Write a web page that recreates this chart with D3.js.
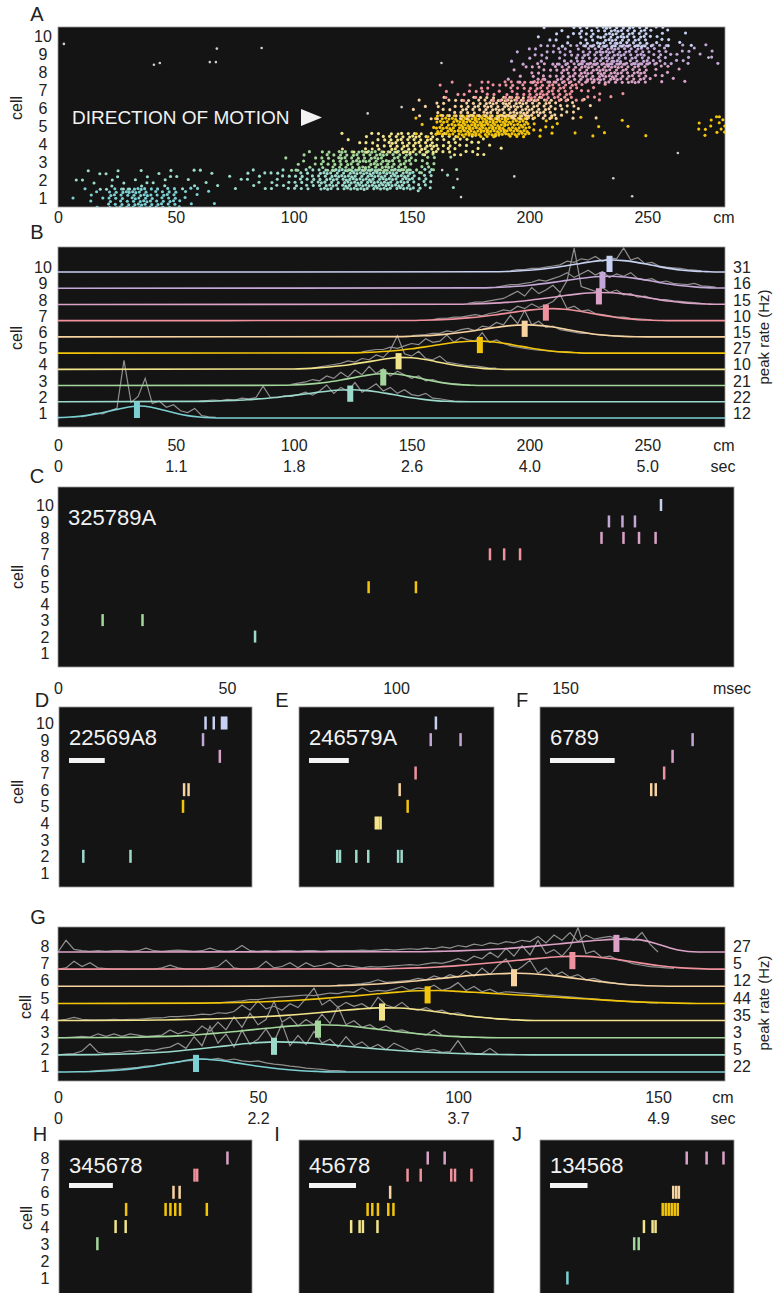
<!DOCTYPE html>
<html>
<head>
<meta charset="utf-8">
<script src="https://cdn.jsdelivr.net/npm/d3@7"></script>
<style>
  body { margin: 0; background: #fff; }
  svg text { font-family: "Liberation Sans", Arial, Helvetica, sans-serif; fill: #222; }
</style>
</head>
<body>
<svg id="fig" width="774" height="1293"></svg>
<script>
// ---------- data ----------
const cells10 = [1, 2, 3, 4, 5, 6, 7, 8, 9, 10];
const cells8 = [1, 2, 3, 4, 5, 6, 7, 8];
const cellColors = ["#7ccfd3", "#9cdacb", "#a3d69b", "#f2e48a", "#f2c40a",
                    "#f6d3a0", "#ef929e", "#dba2c8", "#c3a7d6", "#c7d1f1"];

const cmTicks = [0, 50, 100, 150, 200, 250];
const secLabelsB = ["0", "1.1", "1.8", "2.6", "4.0", "5.0"];
const msecTicks = [0, 50, 100, 150];
const cmTicksG = [0, 50, 100, 150];
const secLabelsG = ["0", "2.2", "3.7", "4.9"];

// A: spike counts per 10 cm bin, per cell (first bin index in countsStartA)
const binA = 10;
const countsStartA = [0, 0, 9, 12, 15, 15, 16, 19, 19, 20];
const countsA = [
  [1, 6, 25, 35, 25, 8, 2],
  [1, 5, 8, 6, 6, 5, 4, 3, 8, 12, 20, 35, 45, 45, 40, 20, 2],
  [2, 8, 20, 30, 35, 30, 15, 2],
  [5, 15, 30, 30, 20, 12, 5],
  [5, 40, 60, 60, 50, 10, 2, 3, 2, 2, 0, 0, 8, 6],
  [5, 15, 25, 35, 40, 30, 15, 4],
  [5, 8, 12, 20, 30, 25, 12, 3],
  [5, 15, 25, 35, 40, 30, 10, 3],
  [4, 10, 15, 25, 35, 30, 20, 10, 5],
  [3, 8, 20, 35, 30, 12, 3]
];
// stray spikes (cm, cell position)
const strayCmA = [2.5, 40.7, 43.2, 67.4, 64.4, 67, 86.4, 162.7, 131.4, 145.8, 169.5, 171, 163, 193.6, 235.6, 243.6, 263, 276];
const strayCellA = [9.56, 8.4, 8.5, 9.3, 8.55, 8.55, 9.33, 8.5, 5.7, 6.05, 2.05, 1.05, 2.55, 2.2, 2.1, 1.1, 3.5, 8.8];

// B: peak rates (Hz), peak positions (cm), smoothed (5 cm grid) and raw (3 cm) rate, normalised to peak
const peakRateB = [12, 22, 21, 10, 27, 15, 10, 15, 16, 31];
const peakPosB = [33.5, 124, 138, 144.5, 179, 198, 207, 229.5, 231, 234];
const smoothStepB = 5;
const smoothStartB = [0, 60, 95, 100, 125, 145, 150, 170, 180, 185];
const smoothB = [
  [0.03, 0.08, 0.16, 0.3, 0.5, 0.72, 0.92, 1.0, 0.88, 0.65, 0.4, 0.2, 0.08, 0.02, 0],
  [0.03, 0.05, 0.08, 0.12, 0.17, 0.24, 0.32, 0.42, 0.53, 0.65, 0.78, 0.9, 0.98, 1.0, 0.95, 0.84, 0.68, 0.5, 0.33, 0.2, 0.1, 0.04, 0.01, 0],
  [0.02, 0.05, 0.1, 0.18, 0.3, 0.46, 0.64, 0.82, 0.96, 1.0, 0.92, 0.75, 0.54, 0.34, 0.18, 0.08, 0.03, 0],
  [0.03, 0.06, 0.12, 0.2, 0.3, 0.43, 0.58, 0.74, 0.9, 1.0, 0.96, 0.84, 0.66, 0.47, 0.3, 0.17, 0.08, 0.03, 0],
  [0.02, 0.05, 0.09, 0.15, 0.24, 0.36, 0.5, 0.65, 0.8, 0.92, 0.99, 1.0, 0.93, 0.8, 0.62, 0.44, 0.28, 0.16, 0.08, 0.03, 0],
  [0.02, 0.05, 0.09, 0.15, 0.23, 0.34, 0.47, 0.62, 0.77, 0.9, 0.98, 1.0, 0.94, 0.82, 0.65, 0.47, 0.31, 0.18, 0.09, 0.04, 0.01, 0],
  [0.02, 0.04, 0.07, 0.11, 0.17, 0.25, 0.35, 0.47, 0.61, 0.75, 0.88, 0.97, 1.0, 0.95, 0.83, 0.66, 0.48, 0.32, 0.19, 0.1, 0.05, 0.02, 0],
  [0.02, 0.04, 0.07, 0.11, 0.17, 0.25, 0.35, 0.47, 0.6, 0.74, 0.86, 0.96, 1.0, 0.97, 0.88, 0.74, 0.57, 0.4, 0.26, 0.15, 0.08, 0.04, 0.01],
  [0.03, 0.06, 0.1, 0.16, 0.25, 0.36, 0.49, 0.63, 0.77, 0.9, 0.98, 1.0, 0.94, 0.82, 0.66, 0.49, 0.33, 0.2, 0.11, 0.05, 0.02],
  [0.02, 0.04, 0.08, 0.14, 0.23, 0.35, 0.5, 0.66, 0.82, 0.95, 1.0, 0.95, 0.82, 0.64, 0.45, 0.28, 0.15, 0.07, 0.03, 0]
];
const rawStepB = 3;
const rawStartB = [10, 60, 99, 108, 129, 150, 159, 174, 186, 192];
const rawB = [
  [0.1, 0.25, 0.4, 0.35, 0.6, 0.8, 4.8, 1.3, 1.8, 3.3, 1.2, 1.4, 0.9, 1.1, 0.6, 0.45, 0.8, 0.2, 0.1, 0.05],
  [0.05, 0.1, 0.15, 0.1, 0.2, 0.15, 0.3, 0.25, 0.35, 1.3, 0.4, 0.35, 0.5, 0.45, 0.6, 0.8, 0.55, 0.9, 1.4, 0.7, 1.2, 0.9, 1.6, 0.8, 1.1, 1.5, 0.9, 1.2, 0.7, 1.0, 0.6, 0.5, 0.7, 0.3, 0.25, 0.15, 0.05],
  [0.1, 0.2, 0.3, 0.5, 0.4, 0.8, 0.6, 1.1, 0.7, 1.3, 0.9, 1.6, 1.0, 1.4, 0.8, 1.2, 0.9, 0.6, 0.8, 0.4, 0.5, 0.3, 0.2, 0.15, 0.1],
  [0.1, 0.2, 0.3, 0.4, 0.5, 0.7, 0.6, 0.9, 0.8, 1.2, 1.0, 1.6, 2.8, 1.3, 1.1, 1.5, 0.9, 0.8, 1.1, 0.6, 0.5, 0.4, 0.3, 0.3, 0.2, 0.1, 0.1],
  [0.1, 0.2, 0.3, 0.3, 0.5, 0.4, 0.6, 0.8, 0.7, 1.2, 0.9, 1.0, 1.5, 0.9, 1.3, 1.1, 1.0, 1.7, 0.9, 1.1, 0.8, 0.6, 0.5, 0.4, 0.3, 0.25, 0.2, 0.15, 0.1, 0.1, 0.05],
  [0.1, 0.15, 0.2, 0.3, 0.3, 0.5, 0.4, 0.6, 0.7, 0.5, 0.9, 0.8, 1.2, 1.0, 1.8, 1.1, 2.2, 1.0, 1.3, 0.8, 0.9, 0.6, 0.5, 0.4, 0.3, 0.3, 0.2, 0.15, 0.1, 0.1, 0.05],
  [0.1, 0.2, 0.2, 0.3, 0.3, 0.4, 0.5, 0.4, 0.6, 0.7, 0.9, 0.8, 1.2, 1.0, 1.4, 1.1, 1.3, 1.6, 2.2, 1.0, 1.2, 0.8, 0.9, 0.6, 0.5, 0.4, 0.3, 0.3, 0.2, 0.15, 0.1, 0.05],
  [0.1, 0.2, 0.2, 0.3, 0.4, 0.5, 0.8, 1.1, 0.7, 1.4, 0.9, 1.2, 1.6, 1.0, 2.0, 4.7, 1.5, 1.3, 1.1, 1.4, 1.0, 1.2, 0.8, 0.9, 0.6, 0.7, 0.5, 0.4, 0.4, 0.3, 0.25, 0.2, 0.15, 0.1],
  [0.1, 0.2, 0.3, 0.3, 0.4, 0.5, 0.7, 0.6, 0.8, 1.0, 1.3, 0.9, 1.2, 1.5, 1.1, 1.4, 0.9, 1.2, 1.0, 1.3, 0.8, 0.7, 0.8, 0.5, 0.6, 0.4, 0.35, 0.3, 0.4, 0.2, 0.15, 0.1],
  [0.1, 0.2, 0.2, 0.3, 0.3, 0.4, 0.5, 0.6, 0.9, 0.8, 1.1, 1.0, 1.3, 0.9, 1.2, 1.1, 2.0, 1.0, 1.2, 0.7, 0.8, 0.5, 0.4, 0.35, 0.3, 0.2, 0.15, 0.1]
];

// C-F: spike rasters [cell, msec]
const seqC = "325789A", seqD = "22569A8", seqE = "246579A", seqF = "6789";
const spikesC = [[3, 13.2], [3, 25], [2, 58.3], [5, 91.9], [5, 105.9], [7, 127.8], [7, 132], [7, 136.7],
  [8, 160.8], [8, 167.3], [8, 171.9], [8, 176.8], [9, 163], [9, 167], [9, 170.7], [10, 178.4]];
const spikesD = [[10, 41.0], [10, 43.3], [10, 45.6], [10, 46.2], [10, 46.8], [9, 40.3], [8, 45], [6, 35], [6, 36.25],
  [5, 34.7], [2, 6.8], [2, 20]];
const spikesE = [[10, 34.4], [9, 33.1], [9, 40.6], [7, 29.3], [6, 25.3], [5, 27.3], [4, 19.3], [4, 19.9], [4, 20.5],
  [2, 9.6], [2, 10.3], [2, 14.4], [2, 17.4], [2, 24.9], [2, 25.8]];
const spikesF = [[9, 23.6], [8, 20.5], [7, 19.2], [6, 17.2], [6, 17.9]];
const scaleBarMs = 10;

// G: second run, 8 cells
const peakRateG = [22, 5, 3, 35, 44, 12, 5, 27];
const peakPosG = [34.5, 54, 65, 81, 92.4, 114, 128.6, 139.6];
const smoothStartG = [5, 10, 15, 20, 35, 65, 80, 90];
const smoothG = [
  [0.02, 0.06, 0.14, 0.3, 0.52, 0.78, 1.0, 0.9, 0.68, 0.44, 0.25, 0.11, 0.04, 0],
  [0.02, 0.05, 0.1, 0.18, 0.3, 0.45, 0.62, 0.8, 0.94, 1.0, 0.96, 0.86, 0.72, 0.58, 0.45, 0.34, 0.24, 0.16, 0.1, 0.06, 0.03, 0.01, 0],
  [0.02, 0.04, 0.08, 0.14, 0.23, 0.35, 0.5, 0.66, 0.81, 0.93, 1.0, 0.96, 0.83, 0.65, 0.46, 0.3, 0.17, 0.08, 0.03, 0],
  [0.02, 0.04, 0.07, 0.1, 0.14, 0.2, 0.27, 0.36, 0.47, 0.6, 0.74, 0.88, 0.98, 0.97, 0.85, 0.66, 0.45, 0.27, 0.13, 0.05, 0],
  [0.02, 0.04, 0.07, 0.11, 0.17, 0.25, 0.35, 0.47, 0.6, 0.74, 0.87, 0.97, 0.99, 0.93, 0.84, 0.74, 0.65, 0.56, 0.47, 0.38, 0.29, 0.2, 0.12, 0.06, 0.02, 0],
  [0.02, 0.05, 0.1, 0.18, 0.29, 0.43, 0.58, 0.74, 0.88, 0.97, 1.0, 0.93, 0.78, 0.58, 0.38, 0.2, 0.08, 0.02, 0],
  [0.02, 0.05, 0.1, 0.17, 0.27, 0.39, 0.53, 0.68, 0.83, 0.95, 1.0, 0.92, 0.74, 0.5, 0.28, 0.12, 0.04, 0],
  [0.02, 0.05, 0.09, 0.15, 0.23, 0.34, 0.47, 0.62, 0.77, 0.9, 0.99, 0.95, 0.6, 0.15, 0]
];
const rawStepG = 2;
const rawStartG = [8, 0, 0, 0, 40, 70, 0, 0];
const rawG = [
  [0.05, 0.1, 0.15, 0.2, 0.25, 0.3, 0.35, 0.45, 0.5, 0.6, 0.7, 0.75, 0.85, 0.9, 1.0, 0.95, 1.05, 0.9, 1.0, 0.85, 0.8, 0.85, 0.7, 0.6, 0.55, 0.45, 0.4, 0.3, 0.25, 0.2, 0.1, 0.1, 0.05],
  [0, 0.05, 0.1, 0.3, 0.85, 0.2, 0.1, 0.15, 0.2, 0.3, 0.25, 0.4, 0.35, 0.5, 0.6, 0.9, 0.5, 1.4, 0.7, 2.2, 0.9, 1.6, 0.6, 1.9, 0.8, 1.2, 2.0, 1.0, 2.4, 0.7, 1.5, 0.8, 1.8, 0.9, 1.2, 0.6, 1.4, 0.7, 1.0, 0.5, 0.8, 0.4, 0.9, 0.6, 0.3, 0.5, 0.3, 0.4, 0.2, 0.25, 1.1, 0.2, 0.1, 0.1, 0.5, 0.05],
  [0, 0, 0.05, 0.1, 0.05, 0.3, 0.1, 0.3, 0.1, 0.3, 0.2, 0.1, 0.15, 0.2, 0.6, 0.3, 0.5, 0.3, 0.9, 0.5, 1.2, 0.6, 1.6, 0.8, 1.9, 1.0, 1.4, 2.8, 1.2, 1.6, 0.9, 1.4, 1.0, 1.8, 1.1, 2.4, 1.0, 1.3, 0.8, 1.0, 0.6, 0.9, 0.5, 0.6, 0.4, 0.3, 0.2, 0.6, 0.2, 0.1, 0.1, 0.05],
  [0, 0.1, 0.25, 0.1, 0.05, 0.05, 0.05, 0.1, 0.05, 0.1, 0.1, 0.15, 0.2, 0.2, 0.3, 0.3, 0.35, 0.4, 0.5, 0.45, 0.6, 0.55, 0.7, 1.2, 0.8, 1.5, 0.9, 1.1, 0.8, 1.3, 1.0, 1.7, 2.5, 1.2, 1.6, 1.0, 1.4, 1.1, 1.3, 0.9, 1.8, 1.2, 1.0, 1.4, 0.9, 0.8, 1.0, 0.7, 0.8, 0.5, 0.6, 0.4, 0.3, 0.25, 0.2, 0.1, 0.1, 0.05],
  [0.05, 0.1, 0.15, 0.2, 0.3, 0.3, 0.4, 0.45, 0.5, 0.55, 0.6, 0.65, 0.6, 0.7, 0.8, 0.75, 0.9, 0.85, 1.2, 0.9, 1.0, 0.95, 1.1, 1.3, 1.0, 1.2, 1.1, 1.4, 1.0, 1.2, 1.6, 1.0, 1.3, 0.9, 1.1, 0.8, 0.9, 0.85, 0.8, 0.75, 0.7, 0.65, 0.6, 0.55, 0.5, 0.45, 0.4, 0.35, 0.3, 0.25, 0.2, 0.15, 0.1, 0.1, 0.05, 0.05],
  [0.1, 0.1, 0.15, 0.2, 0.3, 0.5, 0.3, 0.35, 0.4, 0.45, 0.6, 0.5, 0.8, 0.6, 0.9, 0.7, 1.2, 0.8, 1.4, 0.9, 1.6, 2.1, 1.1, 1.5, 2.0, 1.0, 1.4, 0.8, 1.1, 0.7, 0.9, 0.5, 0.6, 0.4, 0.3, 0.2, 0.15, 0.1, 0.05],
  [0, 0.1, 0.6, 0.2, 0.5, 0.1, 0.05, 0, 0, 0, 0, 0, 0, 0.1, 0.3, 0.1, 0, 0, 0, 0.1, 0.2, 0.7, 0.1, 0, 0, 0.1, 0.6, 0.1, 0.2, 0.5, 0.1, 0.5, 0.2, 0.3, 0.5, 0.2, 0.3, 0.2, 0.1, 0.2, 0.15, 0.2, 0.25, 0.3, 0.35, 0.3, 0.4, 0.5, 0.45, 0.6, 0.8, 0.6, 1.0, 0.8, 1.3, 0.9, 1.6, 1.0, 1.8, 1.1, 2.2, 1.2, 1.5, 1.0, 1.7, 3.2, 1.2, 1.4, 0.9, 1.0, 0.7, 0.6, 0.4, 0.3, 0.2, 0.15, 0.1, 0.05],
  [0, 0.9, 0.2, 0.1, 0.05, 0.1, 0.05, 0.1, 0.1, 0.05, 0.1, 0.3, 0.1, 0.05, 0.1, 0.15, 0.1, 0.05, 0.1, 0.3, 0.1, 0.05, 0.1, 0.5, 0.1, 0.05, 0.1, 0.05, 0.1, 0.1, 0.05, 0.1, 0.1, 0.05, 0.1, 0.1, 0.1, 0.1, 0.15, 0.1, 0.15, 0.2, 0.15, 0.2, 0.25, 0.2, 0.3, 0.25, 0.4, 0.3, 0.5, 0.4, 0.6, 0.5, 0.7, 0.6, 0.8, 0.7, 0.9, 0.8, 1.2, 0.7, 1.3, 0.9, 1.5, 0.8, 1.3, 1.0, 1.1, 1.2, 1.0, 1.1, 0.9, 1.5, 0.6, 0]
];

// H-J
const seqH = "345678", seqI = "45678", seqJ = "134568";
const spikesH = [[8, 38.4], [7, 30.9], [7, 31.5], [6, 26.1], [6, 27.5], [5, 15.3], [5, 24.3], [5, 25.4], [5, 26.5],
  [5, 27.6], [5, 33.7], [4, 12.9], [4, 15.2], [3, 8.75]];
const spikesI = [[8, 27.4], [8, 31.0], [7, 23.1], [7, 25.9], [7, 32.4], [7, 33.2], [7, 36.7], [6, 19.4], [5, 14.6],
  [5, 15.6], [5, 16.8], [5, 19.0], [5, 20.1], [4, 11.1], [4, 12.9], [4, 13.6], [4, 16.7]];
const spikesJ = [[8, 39.1], [8, 44.4], [8, 48.9], [6, 35.5], [6, 36.3], [6, 37.0], [5, 32.7], [5, 33.5], [5, 34.3],
  [5, 35.1], [5, 35.9], [5, 36.7], [4, 27.7], [4, 30.0], [4, 30.8], [3, 25.1], [3, 26.3], [1, 7.3]];

// ---------- drawing ----------
const FONT = '"Liberation Sans", Arial, Helvetica, sans-serif';
const svg = d3.select("#fig");
const color = c => cellColors[c - 1];

function box(x0, y0, x1, y1, id) {
  svg.append("clipPath").attr("id", id).append("rect")
    .attr("x", x0).attr("y", y0).attr("width", x1 - x0).attr("height", y1 - y0);
  svg.append("rect").attr("x", x0).attr("y", y0).attr("width", x1 - x0).attr("height", y1 - y0)
    .attr("fill", "#141414").attr("stroke", "#9a9a9a").attr("stroke-width", 0.8);
}

function letter(t, x, y) {
  svg.append("text").attr("x", x).attr("y", y).attr("dy", "0.35em").attr("text-anchor", "middle")
    .attr("font-size", 20).text(t);
}

function cellTitle(x, y) {
  svg.append("text").attr("transform", `translate(${x},${y}) rotate(-90)`)
    .attr("text-anchor", "middle").attr("dy", "0.35em").attr("font-size", 16).text("cell");
}

function xLabels(scale, vals, fmt, y, unit, unitX) {
  const g = svg.append("g").attr("transform", `translate(0,${y})`)
    .call(d3.axisBottom(scale).tickValues(vals).tickFormat(fmt).tickSize(0));
  g.select(".domain").remove();
  g.attr("font-size", 16).attr("font-family", FONT).attr("color", "#222");
  g.selectAll("text").attr("y", 0).attr("dy", "0.35em");
  if (unit) svg.append("text").attr("x", unitX).attr("y", y).attr("dy", "0.35em")
    .attr("text-anchor", "middle").attr("font-size", 16).text(unit);
}

function rowLabels(scale, cells, x, dy) {
  const g = svg.append("g").attr("transform", `translate(${x},${dy})`)
    .call(d3.axisLeft(scale).tickValues(cells).tickFormat(d3.format("d")).tickSize(0));
  g.select(".domain").remove();
  g.attr("font-size", 16).attr("font-family", FONT).attr("color", "#222");
  g.selectAll("text").attr("x", 0).attr("text-anchor", "middle").attr("dy", "0.35em");
}

function rateLabels(scale, cells, rates, x, dy, titleY) {
  const g = svg.append("g").attr("transform", `translate(${x},${dy})`)
    .call(d3.axisRight(scale).tickValues(cells).tickFormat(c => rates[c - 1]).tickSize(0));
  g.select(".domain").remove();
  g.attr("font-size", 16).attr("font-family", FONT).attr("color", "#222");
  g.selectAll("text").attr("x", 0).attr("text-anchor", "start").attr("dy", "0.35em");
  svg.append("text").attr("transform", `translate(764,${titleY}) rotate(-90)`)
    .attr("text-anchor", "middle").attr("dy", "0.35em").attr("font-size", 15).text("peak rate (Hz)");
}

// ===== A =====
const xA = d3.scaleLinear().domain([0, 283]).range([58, 725]);
const yA = d3.scaleLinear().domain([1, 10]).range([198, 36]);
box(58, 27, 725, 207, "clipA");
const dotsA = [];
const spreadA = 1.2;
countsA.forEach((arr, ci) => {
  const cell = ci + 1, b0 = countsStartA[ci];
  arr.forEach((n, bi) => {
    const lo = (b0 + bi) * binA, hi = Math.min(lo + binA, xA.domain()[1]);
    for (let k = 0; k < n; k++) {
      const u = (0.5 + k * 0.7548776662 + cell * 0.137) % 1;
      const v = (0.5 + k * 0.5698402910 + (b0 + bi) * 0.291) % 1;
      dotsA.push({ cm: lo + u * (hi - lo), pos: cell + (v - 0.5) * spreadA, cell });
    }
  });
});
const gA = svg.append("g").attr("clip-path", "url(#clipA)");
gA.selectAll("circle.s").data(strayCmA).join("circle").attr("class", "s")
  .attr("cx", d => xA(d)).attr("cy", (d, i) => yA(strayCellA[i])).attr("r", 1.3).attr("fill", "#cfcfcf");
gA.selectAll("circle.d").data(dotsA).join("circle").attr("class", "d")
  .attr("cx", d => xA(d.cm)).attr("cy", d => yA(d.pos)).attr("r", 1.55).attr("fill", d => color(d.cell));
svg.append("text").attr("x", 72).attr("y", 117).attr("dy", "0.35em").attr("font-size", 19)
  .style("fill", "#f2f2f2").text("DIRECTION OF MOTION");
svg.append("polygon").attr("points", "301,109 301,126 322,117.5").attr("fill", "#f2f2f2");
rowLabels(yA, cells10, 43, 0);
cellTitle(16, 108);
xLabels(xA, cmTicks, d3.format("d"), 217, "cm", 724);
letter("A", 37, 14);

// ===== B =====
const yB = d3.scaleLinear().domain([1, 10]).range([418, 272]);
const ampB = d3.scaleLinear().domain([0, 1]).range([0, 12]);
const rowHB = yB(1) - yB(2);
box(58, 247, 725, 427, "clipB");
const gB = svg.append("g").attr("clip-path", "url(#clipB)");

function seriesPoints(start, step, vals, xmax, pad) {
  const pts = vals.map((v, i) => [start + i * step, v]);
  if (pad) {
    if (start > 0) pts.unshift([0, 0]);
    const last = start + (vals.length - 1) * step;
    if (last < xmax) pts.push([xmax, vals[vals.length - 1] > 0.02 ? 0 : vals[vals.length - 1]]);
  }
  return pts;
}

function tracePanel(g, xs, ys, amp, cells, rawStart, rawStep, raw, smStart, smStep, sm, peaks, rowH) {
  const xmax = xs.domain()[1];
  cells.forEach(c => {
    const line = d3.line().x(d => xs(d[0])).y(d => ys(c) - amp(d[1]));
    g.append("path").datum(seriesPoints(rawStart[c - 1], rawStep, raw[c - 1], xmax, false))
      .attr("d", line).attr("fill", "none").attr("stroke", "#909090").attr("stroke-width", 1.2);
  });
  cells.forEach(c => {
    const line = d3.line().x(d => xs(d[0])).y(d => ys(c) - amp(d[1])).curve(d3.curveMonotoneX);
    g.append("path").datum(seriesPoints(smStart[c - 1], smStep, sm[c - 1], xmax, true))
      .attr("d", line).attr("fill", "none").attr("stroke", color(c)).attr("stroke-width", 1.6);
  });
  g.selectAll("rect.pk").data(cells).join("rect").attr("class", "pk")
    .attr("x", c => xs(peaks[c - 1]) - 3).attr("width", 6)
    .attr("y", c => ys(c) - rowH).attr("height", rowH).attr("fill", c => color(c));
}
tracePanel(gB, xA, yB, ampB, cells10, rawStartB, rawStepB, rawB, smoothStartB, smoothStepB, smoothB, peakPosB, rowHB);
rowLabels(yB, cells10, 43, -5);
rateLabels(yB, cells10, peakRateB, 733, -5, 337);
cellTitle(16, 338);
xLabels(xA, cmTicks, d3.format("d"), 445, "cm", 724);
xLabels(xA, cmTicks, (d, i) => secLabelsB[i], 466, "sec", 723);
letter("B", 37, 232);

// ===== C =====
const xC = d3.scaleLinear().domain([0, 200]).range([58, 734]);
const yC = d3.scaleLinear().domain([1, 10]).range([653, 505]);
box(58, 487, 734, 667, "clipC");

function raster(x0, y0, xs, ys, spikes, tickH, seq, bar) {
  svg.append("g").selectAll("rect").data(spikes).join("rect")
    .attr("x", d => xs(d[1]) - 1.25).attr("width", 2.5)
    .attr("y", d => ys(d[0]) - tickH / 2).attr("height", tickH)
    .attr("fill", d => color(d[0]));
  svg.append("text").attr("x", x0 + 10).attr("y", y0 + bar.textDy).attr("dy", "0.35em")
    .attr("font-size", 22).style("fill", "#f2f2f2").text(seq);
  if (bar.show) svg.append("rect").attr("x", x0 + 10).attr("y", y0 + bar.dy)
    .attr("width", xs(scaleBarMs) - xs(0)).attr("height", 5).attr("fill", "#f4f4f4");
}
raster(58, 487, xC, yC, spikesC, 12, seqC, { show: false, textDy: 30 });
rowLabels(yC, cells10, 45, 0);
cellTitle(17, 577);
xLabels(xC, msecTicks, d3.format("d"), 688, "msec", 732);
letter("C", 37, 476);

// ===== D, E, F =====
const yD = d3.scaleLinear().domain([1, 10]).range([873, 723]);
const xD = d3.scaleLinear().domain([0, 54]).range([59, 252]);
const xE = d3.scaleLinear().domain([0, 49]).range([299, 494]);
const xF = d3.scaleLinear().domain([0, 30]).range([540, 734]);
box(59, 707, 252, 887, "clipD");
box(299, 707, 494, 887, "clipE");
box(540, 707, 734, 887, "clipF");
raster(59, 707, xD, yD, spikesD, 13, seqD, { show: true, dy: 51, textDy: 30 });
raster(299, 707, xE, yD, spikesE, 13, seqE, { show: true, dy: 51, textDy: 30 });
raster(540, 707, xF, yD, spikesF, 13, seqF, { show: true, dy: 51, textDy: 30 });
rowLabels(yD, cells10, 45, 0);
cellTitle(17, 792);
letter("D", 42, 700);
letter("E", 282, 700);
letter("F", 522, 700);

// ===== G =====
const xG = d3.scaleLinear().domain([0, 167]).range([58, 726]);
const yG = d3.scaleLinear().domain([1, 8]).range([1072, 952]);
const ampG = d3.scaleLinear().domain([0, 1]).range([0, 13]);
const rowHG = yG(1) - yG(2);
box(58, 927, 725, 1081, "clipG");
const gG = svg.append("g").attr("clip-path", "url(#clipG)");
tracePanel(gG, xG, yG, ampG, cells8, rawStartG, rawStepG, rawG, smoothStartG, 5, smoothG, peakPosG, rowHG);
rowLabels(yG, cells8, 45, -6);
rateLabels(yG, cells8, peakRateG, 733, -6, 1003);
cellTitle(25, 1007);
xLabels(xG, cmTicksG, d3.format("d"), 1097, "cm", 723);
xLabels(xG, cmTicksG, (d, i) => secLabelsG[i], 1118, "sec", 723);
letter("G", 38, 917);

// ===== H, I, J =====
const yH = d3.scaleLinear().domain([1, 8]).range([1278, 1158]);
const xH = d3.scaleLinear().domain([0, 44]).range([59, 252]);
const xI = d3.scaleLinear().domain([0, 41.5]).range([299, 494]);
const xJ = d3.scaleLinear().domain([0, 51.7]).range([540, 734]);
box(59, 1140, 252, 1300, "clipH");
box(299, 1140, 494, 1300, "clipI");
box(540, 1140, 734, 1300, "clipJ");
raster(59, 1140, xH, yH, spikesH, 13, seqH, { show: true, dy: 43, textDy: 25 });
raster(299, 1140, xI, yH, spikesI, 13, seqI, { show: true, dy: 43, textDy: 25 });
raster(540, 1140, xJ, yH, spikesJ, 13, seqJ, { show: true, dy: 43, textDy: 25 });
rowLabels(yH, cells8, 45, 0);
cellTitle(26, 1218);
letter("H", 40, 1134);
letter("I", 277, 1134);
letter("J", 517, 1134);
</script>
</body>
</html>
